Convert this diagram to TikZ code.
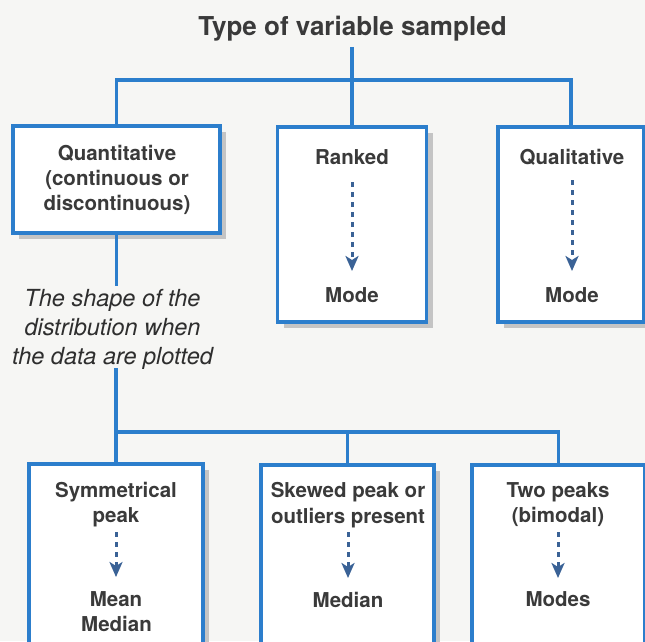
\documentclass[tikz,border=0pt]{standalone}
\usepackage{fontspec}
\setmainfont{TeX Gyre Heros}
\usetikzlibrary{arrows.meta,shadows}
\definecolor{lineblue}{RGB}{44,126,204}
\definecolor{txt}{RGB}{58,58,58}
\definecolor{arrowblue}{RGB}{58,98,150}
\definecolor{bgc}{RGB}{246,246,244}
\definecolor{shadowgray}{RGB}{196,196,196}
\begin{document}
\begin{tikzpicture}[x=1pt,y=-1pt,
  vbox/.style={draw=lineblue, line width=3.2pt, fill=white, inner sep=0,
    drop shadow={shadow xshift=6pt, shadow yshift=-6pt, fill=shadowgray, opacity=1}},
  boxtext/.style={font=\fontsize{20.5}{25}\selectfont\bfseries, text=txt, inner sep=0, anchor=base},
  titletext/.style={font=\fontsize{26}{30}\selectfont\bfseries, text=txt, inner sep=0, anchor=base},
  shapetext/.style={font=\fontsize{23.5}{29}\selectfont\itshape, text=txt!80!black, inner sep=0, anchor=base},
  tree/.style={draw=lineblue, line width=3.2pt, line join=miter},
  dotarrow/.style={draw=arrowblue, line width=3pt, dash pattern=on 4.5pt off 5.5pt,
    -{Stealth[width=13pt,length=15pt,inset=4pt,fill=arrowblue]}}
]
\useasboundingbox (0,0) rectangle (645,641);
\clip (0,0) rectangle (645,641);
\fill[bgc] (0,0) rectangle (645,641);

% title
\node[titletext] (title) at (352.5,35) {Type of variable sampled};
\coordinate (j1) at (352,80);

% top boxes
\node[vbox, minimum width=207pt, minimum height=107pt] (quant) at (116.5,179.5) {};
\node[vbox, minimum width=149pt, minimum height=195pt] (ranked) at (352,224.5) {};
\node[vbox, minimum width=146pt, minimum height=195pt] (qual) at (571,224.5) {};

\node[boxtext] (q1) at (117,160) {Quantitative};
\node[boxtext] (q2) at (117,185) {(continuous or};
\node[boxtext] (q3) at (117,210) {discontinuous)};

\node[boxtext] (rk) at (352,164) {Ranked};
\node[boxtext] (rmode) at (352,302) {Mode};
\node[boxtext] (ql) at (572,164) {Qualitative};
\node[boxtext] (qmode) at (572,302) {Mode};

% italic text
\node[shapetext] (sh1) at (112.5,306) {The shape of the};
\node[shapetext] (sh2) at (112.5,335) {distribution when};
\node[shapetext] (sh3) at (112.5,364) {the data are plotted};
\coordinate (j2) at (116,432);

% bottom boxes
\node[vbox, minimum width=174pt, minimum height=216pt] (sym) at (116,572) {};
\node[vbox, minimum width=173pt, minimum height=216pt] (skew) at (347.5,573) {};
\node[vbox, minimum width=173pt, minimum height=216pt] (two) at (558.5,573) {};

\node[boxtext] (s1) at (116,497) {Symmetrical};
\node[boxtext] (s2) at (116,522) {peak};
\node[boxtext] (mean) at (116,606) {Mean};
\node[boxtext] (smed) at (116.5,631) {Median};

\node[boxtext] (k1) at (348,497) {Skewed peak or};
\node[boxtext] (k2) at (348,523) {outliers present};
\node[boxtext] (kmed) at (348,607) {Median};

\node[boxtext] (t1) at (558,497) {Two peaks};
\node[boxtext] (t2) at (558,522) {(bimodal)};
\node[boxtext] (tmodes) at (558,606) {Modes};

% tree connectors
\draw[tree, shorten <=6pt] (title.south -| j1) -- (j1);
\draw[tree] (quant.north) -- (quant.north |- j1) -- (qual.north |- j1) -- (qual.north);
\draw[tree] (j1) -- (ranked.north);
\draw[tree, shorten >=3pt] (quant.south) -- (quant.south |- sh1.north);
\draw[tree, shorten <=-1pt] (j2 |- sh3.south) -- (j2) -- (two.north |- j2) -- (two.north);
\draw[tree] (j2) -- (sym.north);
\draw[tree] (skew.north |- j2) -- (skew.north);

% dotted arrows
\draw[dotarrow, shorten <=18pt, shorten >=31pt] (rk.base) -- (rmode.base);
\draw[dotarrow, shorten <=16pt, shorten >=31pt] (ql.base) -- (qmode.base);
\draw[dotarrow, shorten <=10pt, shorten >=29pt] (s2.base) -- (mean.base);
\draw[dotarrow, shorten <=9pt, shorten >=29pt] (k2.base) -- (kmed.base);
\draw[dotarrow, shorten <=10pt, shorten >=28pt] (t2.base) -- (tmodes.base);
\end{tikzpicture}
\end{document}
